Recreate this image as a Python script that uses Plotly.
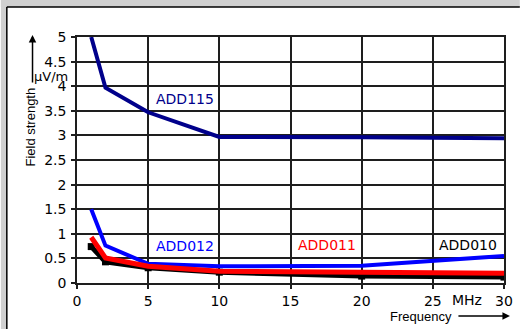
import plotly.graph_objects as go

freq = [1, 2, 5, 10, 20, 30]
add115 = [5.0, 3.97, 3.47, 2.97, 2.96, 2.94]
add012 = [1.50, 0.76, 0.39, 0.34, 0.35, 0.55]
add011 = [0.93, 0.51, 0.34, 0.24, 0.22, 0.20]
add010 = [0.74, 0.43, 0.31, 0.22, 0.14, 0.12]

labels = ["ADD115", "ADD012", "ADD011", "ADD010"]
label_x = [7.57, 7.57, 17.57, 27.5]
label_y = [3.75, 0.76, 0.78, 0.78]
colors = ["#00008b", "#0000ff", "#ff0000", "#000000"]

W, H = 525, 329
L, R, T, B = 77, 16, 37, 46
PW, PH = W - L - R, H - T - B

def px(xp):
    return (xp - L) / PW

def py(yp):
    return (H - B - yp) / PH

FONT = "DejaVu Sans"
FONT2 = "Liberation Sans"

fig = go.Figure()
fig.add_trace(go.Scatter(x=freq, y=add010, mode="lines+markers",
                         line=dict(color=colors[3], width=5),
                         marker=dict(symbol="square", size=7, color=colors[3])))
fig.add_trace(go.Scatter(x=freq, y=add012, mode="lines",
                         line=dict(color=colors[1], width=4)))
fig.add_trace(go.Scatter(x=freq, y=add011, mode="lines",
                         line=dict(color=colors[2], width=5)))
fig.add_trace(go.Scatter(x=freq, y=add115, mode="lines",
                         line=dict(color=colors[0], width=4)))

annotations = []
for t, x, y, c in zip(labels, label_x, label_y, colors):
    annotations.append(dict(x=x, y=y, xref="x", yref="y", text=t, showarrow=False,
                            xanchor="center", yanchor="middle",
                            font=dict(family=FONT, size=14, color=c)))

annotations += [
    dict(x=px(29), y=py(127), xref="paper", yref="paper", text="Field strength",
         textangle=-90, showarrow=False, xanchor="center", yanchor="middle",
         font=dict(family=FONT2, size=13, color="black")),
    dict(x=px(51), y=py(76), xref="paper", yref="paper", text="µV/m",
         showarrow=False, xanchor="center", yanchor="middle",
         font=dict(family=FONT, size=13, color="black")),
    dict(x=px(425), y=py(316), xref="paper", yref="paper", text="Frequency",
         showarrow=False, xanchor="center", yanchor="middle",
         font=dict(family=FONT2, size=13, color="black")),
    dict(x=27.4, y=py(300), xref="x", yref="paper", text="MHz",
         showarrow=False, xanchor="center", yanchor="middle",
         font=dict(family=FONT, size=14, color="black")),
    dict(x=px(32), y=py(35), xref="paper", yref="paper", text="", showarrow=True,
         ax=0, ay=49, arrowhead=2, arrowsize=1, arrowwidth=1.5, arrowcolor="black"),
    dict(x=px(515), y=py(316), xref="paper", yref="paper", text="", showarrow=True,
         ax=-53, ay=0, arrowhead=2, arrowsize=1, arrowwidth=1.5, arrowcolor="black"),
]

gray = "#d0d0d0"
shapes = [
    dict(type="rect", xref="paper", yref="paper", x0=px(0), x1=px(6), y0=py(H), y1=py(0),
         fillcolor=gray, line=dict(width=0), layer="below"),
    dict(type="rect", xref="paper", yref="paper", x0=px(0), x1=px(W), y0=py(7), y1=py(0),
         fillcolor=gray, line=dict(width=0), layer="below"),
    dict(type="line", xref="paper", yref="paper", x0=px(6), x1=px(6), y0=py(H), y1=py(7),
         line=dict(color="black", width=1.5)),
    dict(type="line", xref="paper", yref="paper", x0=px(6), x1=px(W), y0=py(7), y1=py(7),
         line=dict(color="black", width=1.5)),
]

axis_common = dict(showgrid=True, gridcolor="#1e1e1e", gridwidth=1.5,
                   showline=True, linecolor="#1e1e1e", linewidth=1.5, mirror=True,
                   ticks="outside", ticklen=4, tickcolor="#1e1e1e", tickwidth=1.5,
                   zeroline=False, tickfont=dict(family=FONT, size=14, color="black"))

fig.update_layout(
    width=W, height=H,
    margin=dict(l=L, r=R, t=T, b=B),
    paper_bgcolor="white", plot_bgcolor="white",
    showlegend=False,
    xaxis=dict(range=[0, 30], dtick=5, tick0=0, **axis_common),
    yaxis=dict(range=[0, 5], dtick=0.5, tick0=0, ticklabelstandoff=2, **axis_common),
    annotations=annotations,
    shapes=shapes,
)

fig.write_html("out.html", config={"displayModeBar": False},
               post_script="document.body.style.margin='0';document.body.style.overflow='hidden';")
